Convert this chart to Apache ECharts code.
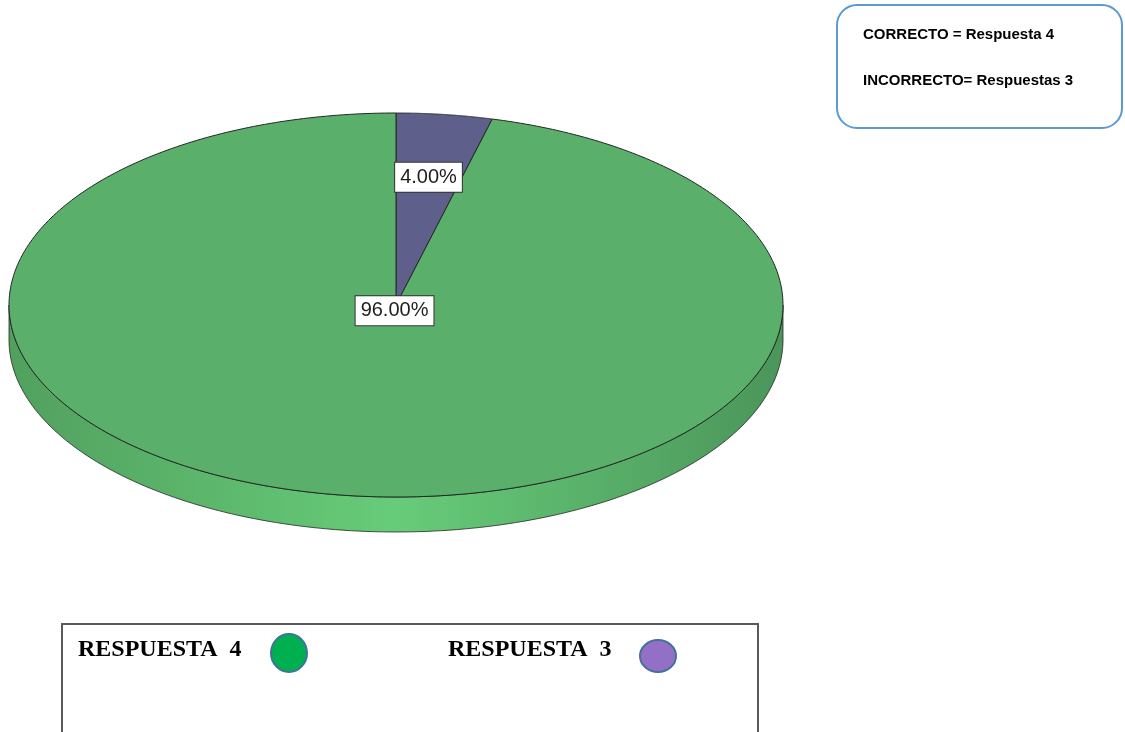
<!DOCTYPE html>
<html>
<head>
<meta charset="utf-8">
<script src="https://cdn.jsdelivr.net/npm/echarts@6/dist/echarts.min.js"></script>
<style>
  html, body { margin: 0; padding: 0; background: #ffffff; }
  #chart { width: 1125px; height: 732px; }
</style>
</head>
<body>
<div id="chart"></div>
<script>
// Slices, drawn clockwise from 12 o'clock
const sliceNames = ['Respuesta 3', 'Respuesta 4'];
const sliceValues = [4, 96];
const sliceColors = ['#5f5f8b', '#5aaf6b'];

// Annotation texts
const noteLines = ['CORRECTO = Respuesta 4', 'INCORRECTO= Respuestas 3'];
const legendLabels = ['RESPUESTA  4', 'RESPUESTA  3'];
const legendColors = ['#00b050', '#9370c6'];

// Tilted pie geometry
const CX = 396, CY = 305, RX = 387, RY = 192, DEPTH = 35;
const total = sliceValues.reduce((a, b) => a + b, 0);

function sliceAngles(i) {
  let before = 0;
  for (let k = 0; k < i; k++) before += sliceValues[k];
  const start = -Math.PI / 2 + 2 * Math.PI * before / total;
  const end = start + 2 * Math.PI * sliceValues[i] / total;
  return [start, end];
}

function ellipsePt(t, dy) {
  return [CX + RX * Math.cos(t), CY + (dy || 0) + RY * Math.sin(t)];
}

function arcPoints(a, b, dy, steps) {
  const pts = [];
  for (let s = 0; s <= steps; s++) {
    pts.push(ellipsePt(a + (b - a) * s / steps, dy));
  }
  return pts;
}

// Front wall of the disc: only the part facing the viewer (angles 0..PI)
function renderSide(params, api) {
  const i = params.dataIndex;
  const [start, end] = sliceAngles(i);
  const children = [];
  [0, 2 * Math.PI, -2 * Math.PI].forEach(function (shift) {
    const a = Math.max(start, 0 + shift);
    const b = Math.min(end, Math.PI + shift);
    if (b <= a) return;
    const top = arcPoints(a, b, 0, 160);
    const bottom = arcPoints(b, a, DEPTH, 160);
    children.push({
      type: 'polygon',
      shape: { points: top.concat(bottom) },
      style: {
        fill: {
          type: 'linear', x: 0, y: 0, x2: 1, y2: 0,
          colorStops: [
            { offset: 0, color: i === 1 ? '#51a05e' : '#4f4f78' },
            { offset: 0.5, color: i === 1 ? '#67cc79' : '#6b6b9a' },
            { offset: 1, color: i === 1 ? '#4b955a' : '#4a4a70' }
          ]
        },
        stroke: 'rgba(30,30,30,0.75)',
        lineWidth: 1
      }
    });
  });
  return { type: 'group', children: children };
}

// Top face of each slice plus its percentage label
function renderTop(params, api) {
  const i = params.dataIndex;
  const v = api.value(0);
  const [start, end] = sliceAngles(i);
  const pts = [[CX, CY]].concat(arcPoints(start, end, 0, 400));
  const frac = v / total;
  const mid = (start + end) / 2;
  const lr = frac > 0.5 ? 0.03 : 0.67;
  const lx = CX + RX * lr * Math.cos(mid);
  const ly = CY + RY * lr * Math.sin(mid);
  return {
    type: 'group',
    children: [
      {
        type: 'polygon',
        shape: { points: pts },
        style: { fill: sliceColors[i], stroke: '#262626', lineWidth: 1 }
      },
      {
        type: 'text',
        z2: 100,
        x: lx,
        y: ly,
        style: {
          text: (frac * 100).toFixed(2) + '%',
          font: '20px "Liberation Sans", Arial, sans-serif',
          fill: '#1e1e1e',
          align: 'center',
          verticalAlign: 'middle',
          backgroundColor: '#ffffff',
          borderColor: '#333333',
          borderWidth: 1,
          padding: [5, 5, 4, 5]
        }
      }
    ]
  };
}

const seriesData = sliceValues.map((v, i) => ({ name: sliceNames[i], value: [v] }));

const chart = echarts.init(document.getElementById('chart'), null, { renderer: 'canvas' });

chart.setOption({
  backgroundColor: '#ffffff',
  animation: false,
  series: [
    { type: 'custom', name: 'side', coordinateSystem: 'none', z: 1, renderItem: renderSide, data: seriesData, silent: true },
    { type: 'custom', name: 'top', coordinateSystem: 'none', z: 2, renderItem: renderTop, data: seriesData, silent: true }
  ],
  graphic: [
    {
      type: 'rect',
      shape: { x: 837, y: 5, width: 285, height: 123, r: 20 },
      style: { fill: '#ffffff', stroke: '#5b9bd5', lineWidth: 2 }
    },
    {
      type: 'text', x: 863, y: 35,
      style: { text: noteLines[0], font: 'bold 15px "Liberation Sans", Arial, sans-serif', fill: '#000000', verticalAlign: 'middle' }
    },
    {
      type: 'text', x: 863, y: 81,
      style: { text: noteLines[1], font: 'bold 15px "Liberation Sans", Arial, sans-serif', fill: '#000000', verticalAlign: 'middle' }
    },
    {
      type: 'rect',
      shape: { x: 62, y: 624, width: 696, height: 130 },
      style: { fill: '#ffffff', stroke: '#595959', lineWidth: 2 }
    },
    {
      type: 'text', x: 78, y: 650,
      style: { text: legendLabels[0], font: 'bold 24px "Liberation Serif", "Times New Roman", serif', fill: '#000000', verticalAlign: 'middle' }
    },
    {
      type: 'ellipse',
      shape: { cx: 289, cy: 653, rx: 18, ry: 19 },
      style: { fill: legendColors[0], stroke: '#41719c', lineWidth: 2 }
    },
    {
      type: 'text', x: 448, y: 650,
      style: { text: legendLabels[1], font: 'bold 24px "Liberation Serif", "Times New Roman", serif', fill: '#000000', verticalAlign: 'middle' }
    },
    {
      type: 'ellipse',
      shape: { cx: 658, cy: 656, rx: 18, ry: 16 },
      style: { fill: legendColors[1], stroke: '#41719c', lineWidth: 2 }
    }
  ]
});
</script>
</body>
</html>
